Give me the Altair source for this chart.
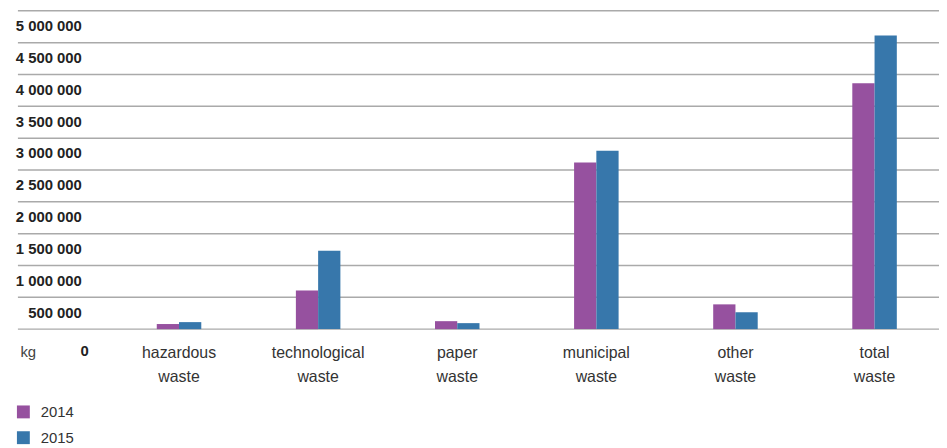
import altair as alt
import pandas as pd

categories = ["hazardous waste", "technological waste", "paper waste",
              "municipal waste", "other waste", "total waste"]
years = ["2014", "2015"]
v2014 = [80000, 607000, 125000, 2617000, 389000, 3863000]
v2015 = [110000, 1230000, 94000, 2804000, 265000, 4611000]
y_ticks = [0, 500000, 1000000, 1500000, 2000000, 2500000, 3000000,
           3500000, 4000000, 4500000, 5000000]
colors = ["#96519f", "#3777ab"]

rows = []
for c, a, b in zip(categories, v2014, v2015):
    rows.append({"category": c, "year": years[0], "value": a})
    rows.append({"category": c, "year": years[1], "value": b})
df = pd.DataFrame(rows)
grid_df = pd.DataFrame({"value": y_ticks})

FONT = "Liberation Sans"
W, H = 929, 321

yscale = alt.Scale(domain=[0, 5000000], nice=False)
yaxis = alt.Axis(values=y_ticks, domain=False, ticks=False, grid=False,
                 labelOverlap=False, labelFlush=False,
                 labelExpr="replace(format(datum.value, ','), regexp(',', 'g'), ' ')",
                 labelFont=FONT, labelFontSize=15, labelFontWeight="bold",
                 labelColor="#222222", labelAlign="right", labelBaseline="middle",
                 labelPadding={"condition": {"test": "datum.value == 0", "value": -71}, "value": -64},
                 labelOffset={"condition": {"test": "datum.value == 0", "value": 22}, "value": 15},
                 title="kg", titleAngle=0, titleAlign="left", titleBaseline="middle",
                 titleX=2, titleY=344, titleFont=FONT, titleFontSize=15,
                 titleFontWeight="normal", titleColor="#444444")

grid = alt.Chart(grid_df).mark_rule(color="#aaaaaa", strokeWidth=1.5).encode(
    y=alt.Y("value:Q", scale=yscale, axis=yaxis),
    x=alt.value(0), x2=alt.value(W),
)

bars = alt.Chart(df).mark_bar().encode(
    x=alt.X("category:N", sort=categories, title=None,
            scale=alt.Scale(paddingInner=0.68, paddingOuter=0.6507, align=0.767),
            axis=alt.Axis(domain=False, ticks=False, grid=False, labelAngle=0,
                          labelExpr="split(datum.label, ' ')",
                          labelFont=FONT, labelFontSize=16, labelColor="#333333",
                          labelBaseline="middle", labelPadding=24, labelLineHeight=24)),
    xOffset=alt.XOffset("year:N", scale=alt.Scale(paddingInner=0, paddingOuter=0)),
    y=alt.Y("value:Q", scale=yscale, axis=yaxis),
    color=alt.Color("year:N", scale=alt.Scale(domain=years, range=colors),
                    legend=alt.Legend(orient="none", legendX=-2, legendY=397, direction="vertical",
                                      title=None, symbolType="square", symbolSize=169,
                                      symbolStrokeWidth=0, labelFont=FONT, labelFontSize=15,
                                      labelColor="#333333", labelOffset=10, rowPadding=10)),
)

chart = alt.layer(grid, bars).properties(
    width=W, height=H,
    autosize=alt.AutoSizeParams(type="none"),
    padding={"left": 10, "top": 1, "right": 0, "bottom": 116},
).configure_view(stroke=None)

chart.save("out.html", embed_options={"renderer": "svg", "actions": False})
